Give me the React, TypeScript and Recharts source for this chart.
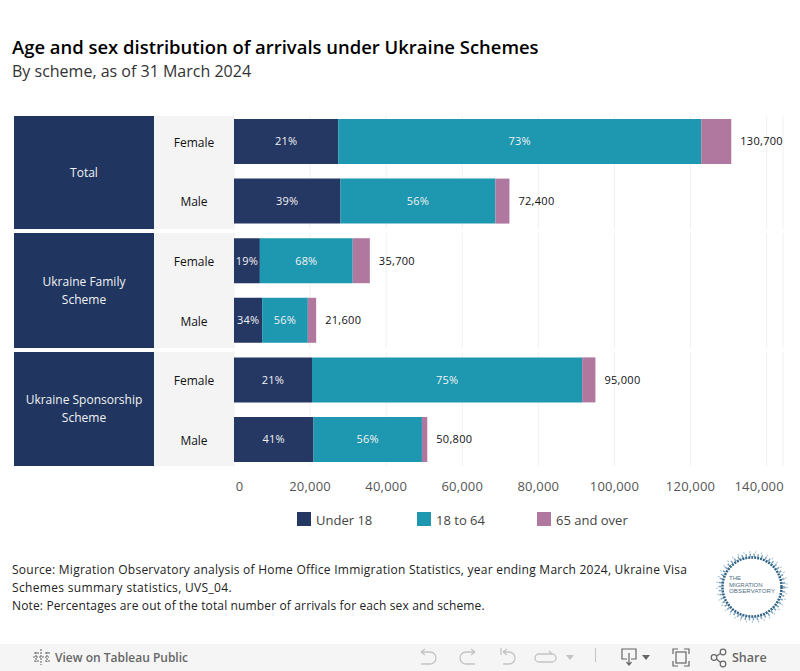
import React from "react";
import { BarChart, Bar, XAxis, YAxis, CartesianGrid, LabelList } from "recharts";

const rowIds = ["t-f", "t-m", "f-f", "f-m", "s-f", "s-m"];
const sexLabels = ["Female", "Male", "Female", "Male", "Female", "Male"];
const under18 = [27400, 28000, 6800, 7400, 20500, 20900];
const adults = [95400, 40700, 24400, 12000, 71000, 28500];
const over65 = [7900, 3700, 4500, 2200, 3500, 1400];
const totals = [130700, 72400, 35700, 21600, 95000, 50800];
const under18Pct = ["21%", "39%", "19%", "34%", "21%", "41%"];
const adultsPct = ["73%", "56%", "68%", "56%", "75%", "56%"];
const xTicks = [0, 20000, 40000, 60000, 80000, 100000, 120000, 140000];

const data = rowIds.map((id, i) => ({
  id,
  sex: sexLabels[i],
  under18: under18[i],
  adults: adults[i],
  over65: over65[i],
  total: totals[i],
  under18Pct: under18Pct[i],
  adultsPct: adultsPct[i],
}));

const NAVY = "#253763";
const PANEL = "#203660";
const TEAL = "#1d98b0";
const PURPLE = "#b0789f";
const FONT = "'Open Sans', sans-serif";

const panels = [
  { label: ["Total"], top: 116, height: 113 },
  { label: ["Ukraine Family", "Scheme"], top: 233, height: 115 },
  { label: ["Ukraine Sponsorship", "Scheme"], top: 352, height: 114 },
];

const legendItems = [
  { name: "Under 18", color: NAVY, left: 297 },
  { name: "18 to 64", color: TEAL, left: 417 },
  { name: "65 and over", color: PURPLE, left: 537 },
];

const SexTick = ({ y, index }: any) => (
  <text x={40} y={y + 5} textAnchor="middle" fontSize={12} fill="#111" fontFamily={FONT}>
    {sexLabels[index]}
  </text>
);

const ValueTick = ({ x, y, payload, index }: any) => {
  // first and last labels get pushed inside the view, as in Tableau
  let px = x;
  if (index === 0) px = x + 5.5;
  if (index === xTicks.length - 1) px = x - 7.5;
  return (
    <text x={px} y={y + 13} textAnchor="middle" fontSize={13} letterSpacing={0.2} fill="#555" fontFamily={FONT}>
      {payload.value.toLocaleString("en-US")}
    </text>
  );
};

const Logo = () => (
  <svg width={80} height={80} viewBox="0 0 80 80" style={{ position: "absolute", left: 712, top: 547 }}>
    <circle cx={40} cy={40} r={35} fill="none" stroke="#a9c2d4" strokeWidth={2} strokeDasharray="1 5" />
    <circle cx={40} cy={40} r={32} fill="none" stroke="#7fa3bc" strokeWidth={3} strokeDasharray="1.5 2.5" />
    <circle cx={40} cy={40} r={29.5} fill="none" stroke="#2f6285" strokeWidth={2.5} strokeDasharray="2 1" />
    <text fontSize={6} fill="#4d6b83" fontFamily="'Liberation Sans', sans-serif">
      <tspan x={17} y={33}>THE</tspan>
      <tspan x={17} y={39.500}>MIGRATION</tspan>
      <tspan x={17} y={46} textLength={46}>OBSERVATORY</tspan>
    </text>
  </svg>
);

const toolStroke = { fill: "none", stroke: "#c4c4c4", strokeWidth: 1.3 };
const darkStroke = { fill: "none", stroke: "#666", strokeWidth: 1.2 };

const Toolbar = () => (
  <div style={{ position: "absolute", left: 0, top: 644, width: 800, height: 27, background: "#f5f5f5" }}>
    <svg width={800} height={27} style={{ position: "absolute", left: 0, top: 0 }}>
      {/* tableau mark */}
      <g stroke="#666" strokeWidth={1.1} strokeDasharray="2 1">
        <path d="M41 5v16M33 13h16M36 8v10M47 8v10M34 9h5M45 9h5M34 17h5M45 17h5" />
      </g>
      {/* undo, redo, revert, refresh */}
      <path {...toolStroke} d="M421 8h9a6 6 0 0 1 0 12h-9M421 8l4-3M421 8l4 3" />
      <path {...toolStroke} d="M475 8h-9a6 6 0 0 0 0 12h9M475 8l-4-3M475 8l-4 3" />
      <path {...toolStroke} d="M501 4v7M503 8h6a6 6 0 0 1 0 12h-6M503 8l4-3M503 8l4 3" />
      <path {...toolStroke} d="M552 10h-13a4 4 0 0 0 0 8h13a4 4 0 0 0 0-8M552 10l-3-3" />
      <path d="M566 11h8l-4 5z" fill="#c4c4c4" />
      <path d="M595.500 4v14" stroke="#c4c4c4" strokeWidth={1} />
      {/* download */}
      <path {...darkStroke} d="M627 15h-5V5h14v10h-5M629 9v12M626.500 18l2.500 3 2.500-3" />
      <path d="M642 11h8l-4 5z" fill="#666" />
      {/* fullscreen */}
      <path {...darkStroke} d="M673 10V5h5M684 5h5v5M689 17v5h-5M678 22h-5v-5" />
      <rect x={676} y={8} width={10} height={11} {...darkStroke} />
      {/* share */}
      <g {...darkStroke}>
        <circle cx={714} cy={13.500} r={2.800} />
        <circle cx={723} cy={8} r={2.800} />
        <circle cx={723} cy={20} r={2.800} />
        <path d="M716.500 12l4-2.500M716.500 15l4 3.500" />
      </g>
    </svg>
    <div style={{ position: "absolute", left: 55, top: 5, fontSize: 12, fontWeight: 600, color: "#666", fontFamily: FONT }}>
      View on Tableau Public
    </div>
    <div style={{ position: "absolute", left: 732, top: 5, fontSize: 12.5, fontWeight: 600, color: "#666", fontFamily: FONT }}>
      Share
    </div>
  </div>
);

export default function App() {
  return (
    <div style={{ position: "absolute", left: 0, top: 0, width: 800, height: 671, background: "#fff", overflow: "hidden", fontFamily: FONT }}>
      <div style={{ position: "absolute", left: 12, top: 34, fontSize: 18.450, fontWeight: 600, color: "#000", whiteSpace: "nowrap" }}>
        Age and sex distribution of arrivals under Ukraine Schemes
      </div>
      <div style={{ position: "absolute", left: 12, top: 60, fontSize: 16, color: "#333", whiteSpace: "nowrap" }}>
        By scheme, as of 31 March 2024
      </div>

      {panels.map((p) => (
        <React.Fragment key={p.label[0]}>
          <div style={{ position: "absolute", left: 14, top: p.top, width: 140, height: p.height, background: PANEL, color: "#f2f2f2", fontSize: 12, lineHeight: "18px", display: "flex", flexDirection: "column", justifyContent: "center", alignItems: "center" }}>
            {p.label.map((line) => (
              <div key={line}>{line}</div>
            ))}
          </div>
          <div style={{ position: "absolute", left: 154, top: p.top, width: 80, height: p.height, background: "#f4f4f4" }} />
        </React.Fragment>
      ))}

      <div style={{ position: "absolute", left: 154, top: 0 }}>
        <BarChart
          width={646}
          height={510}
          data={data}
          layout="vertical"
          barSize={45}
          margin={{ top: 112, right: 17, left: 0, bottom: 10.4 }}
        >
          <CartesianGrid horizontal={false} stroke="#f0f0f0" />
          <XAxis
            type="number"
            domain={[0, 144300]}
            ticks={xTicks}
            axisLine={false}
            tickLine={false}
            height={30}
            interval={0}
            tick={<ValueTick />}
          />
          <YAxis
            type="category"
            dataKey="id"
            width={80}
            axisLine={false}
            tickLine={false}
            interval={0}
            tick={<SexTick />}
          />
          <Bar dataKey="under18" stackId="a" fill={NAVY} isAnimationActive={false}>
            <LabelList dataKey="under18Pct" position="center" fill="#f2f2f2" fontSize={11} letterSpacing={0.2} fontFamily={FONT} />
          </Bar>
          <Bar dataKey="adults" stackId="a" fill={TEAL} isAnimationActive={false}>
            <LabelList dataKey="adultsPct" position="center" fill="#f2f2f2" fontSize={11} letterSpacing={0.2} fontFamily={FONT} />
          </Bar>
          <Bar dataKey="over65" stackId="a" fill={PURPLE} isAnimationActive={false}>
            <LabelList
              dataKey="total"
              position="right"
              offset={9}
              fill="#111"
              fontSize={11}
              letterSpacing={0.3}
              fontFamily={FONT}
              formatter={(v: any) => Number(v).toLocaleString("en-US")}
            />
          </Bar>
        </BarChart>
      </div>

      {/* white gaps between the three panes */}
      <div style={{ position: "absolute", left: 234, top: 108, width: 566, height: 8, background: "#fff" }} />
      <div style={{ position: "absolute", left: 234, top: 229, width: 566, height: 4, background: "#fff" }} />
      <div style={{ position: "absolute", left: 234, top: 348, width: 566, height: 4, background: "#fff" }} />
      <div style={{ position: "absolute", left: 234, top: 466, width: 566, height: 4, background: "#fff" }} />

      {legendItems.map((item) => (
        <React.Fragment key={item.name}>
          <div style={{ position: "absolute", left: item.left, top: 512, width: 14, height: 14, background: item.color }} />
          <div style={{ position: "absolute", left: item.left + 19, top: 511, fontSize: 13, color: "#444", whiteSpace: "nowrap" }}>
            {item.name}
          </div>
        </React.Fragment>
      ))}

      <div style={{ position: "absolute", left: 12, top: 561, width: 690, fontSize: 12, lineHeight: "18px", color: "#222" }}>
        <div style={{ whiteSpace: "nowrap", letterSpacing: 0.25 }}>Source: Migration Observatory analysis of Home Office Immigration Statistics, year ending March 2024, Ukraine Visa</div>
        <div style={{ letterSpacing: 0.33 }}>Schemes summary statistics, UVS_04.</div>
        <div style={{ letterSpacing: 0.14 }}>Note: Percentages are out of the total number of arrivals for each sex and scheme.</div>
      </div>

      <Logo />
      <Toolbar />
    </div>
  );
}
